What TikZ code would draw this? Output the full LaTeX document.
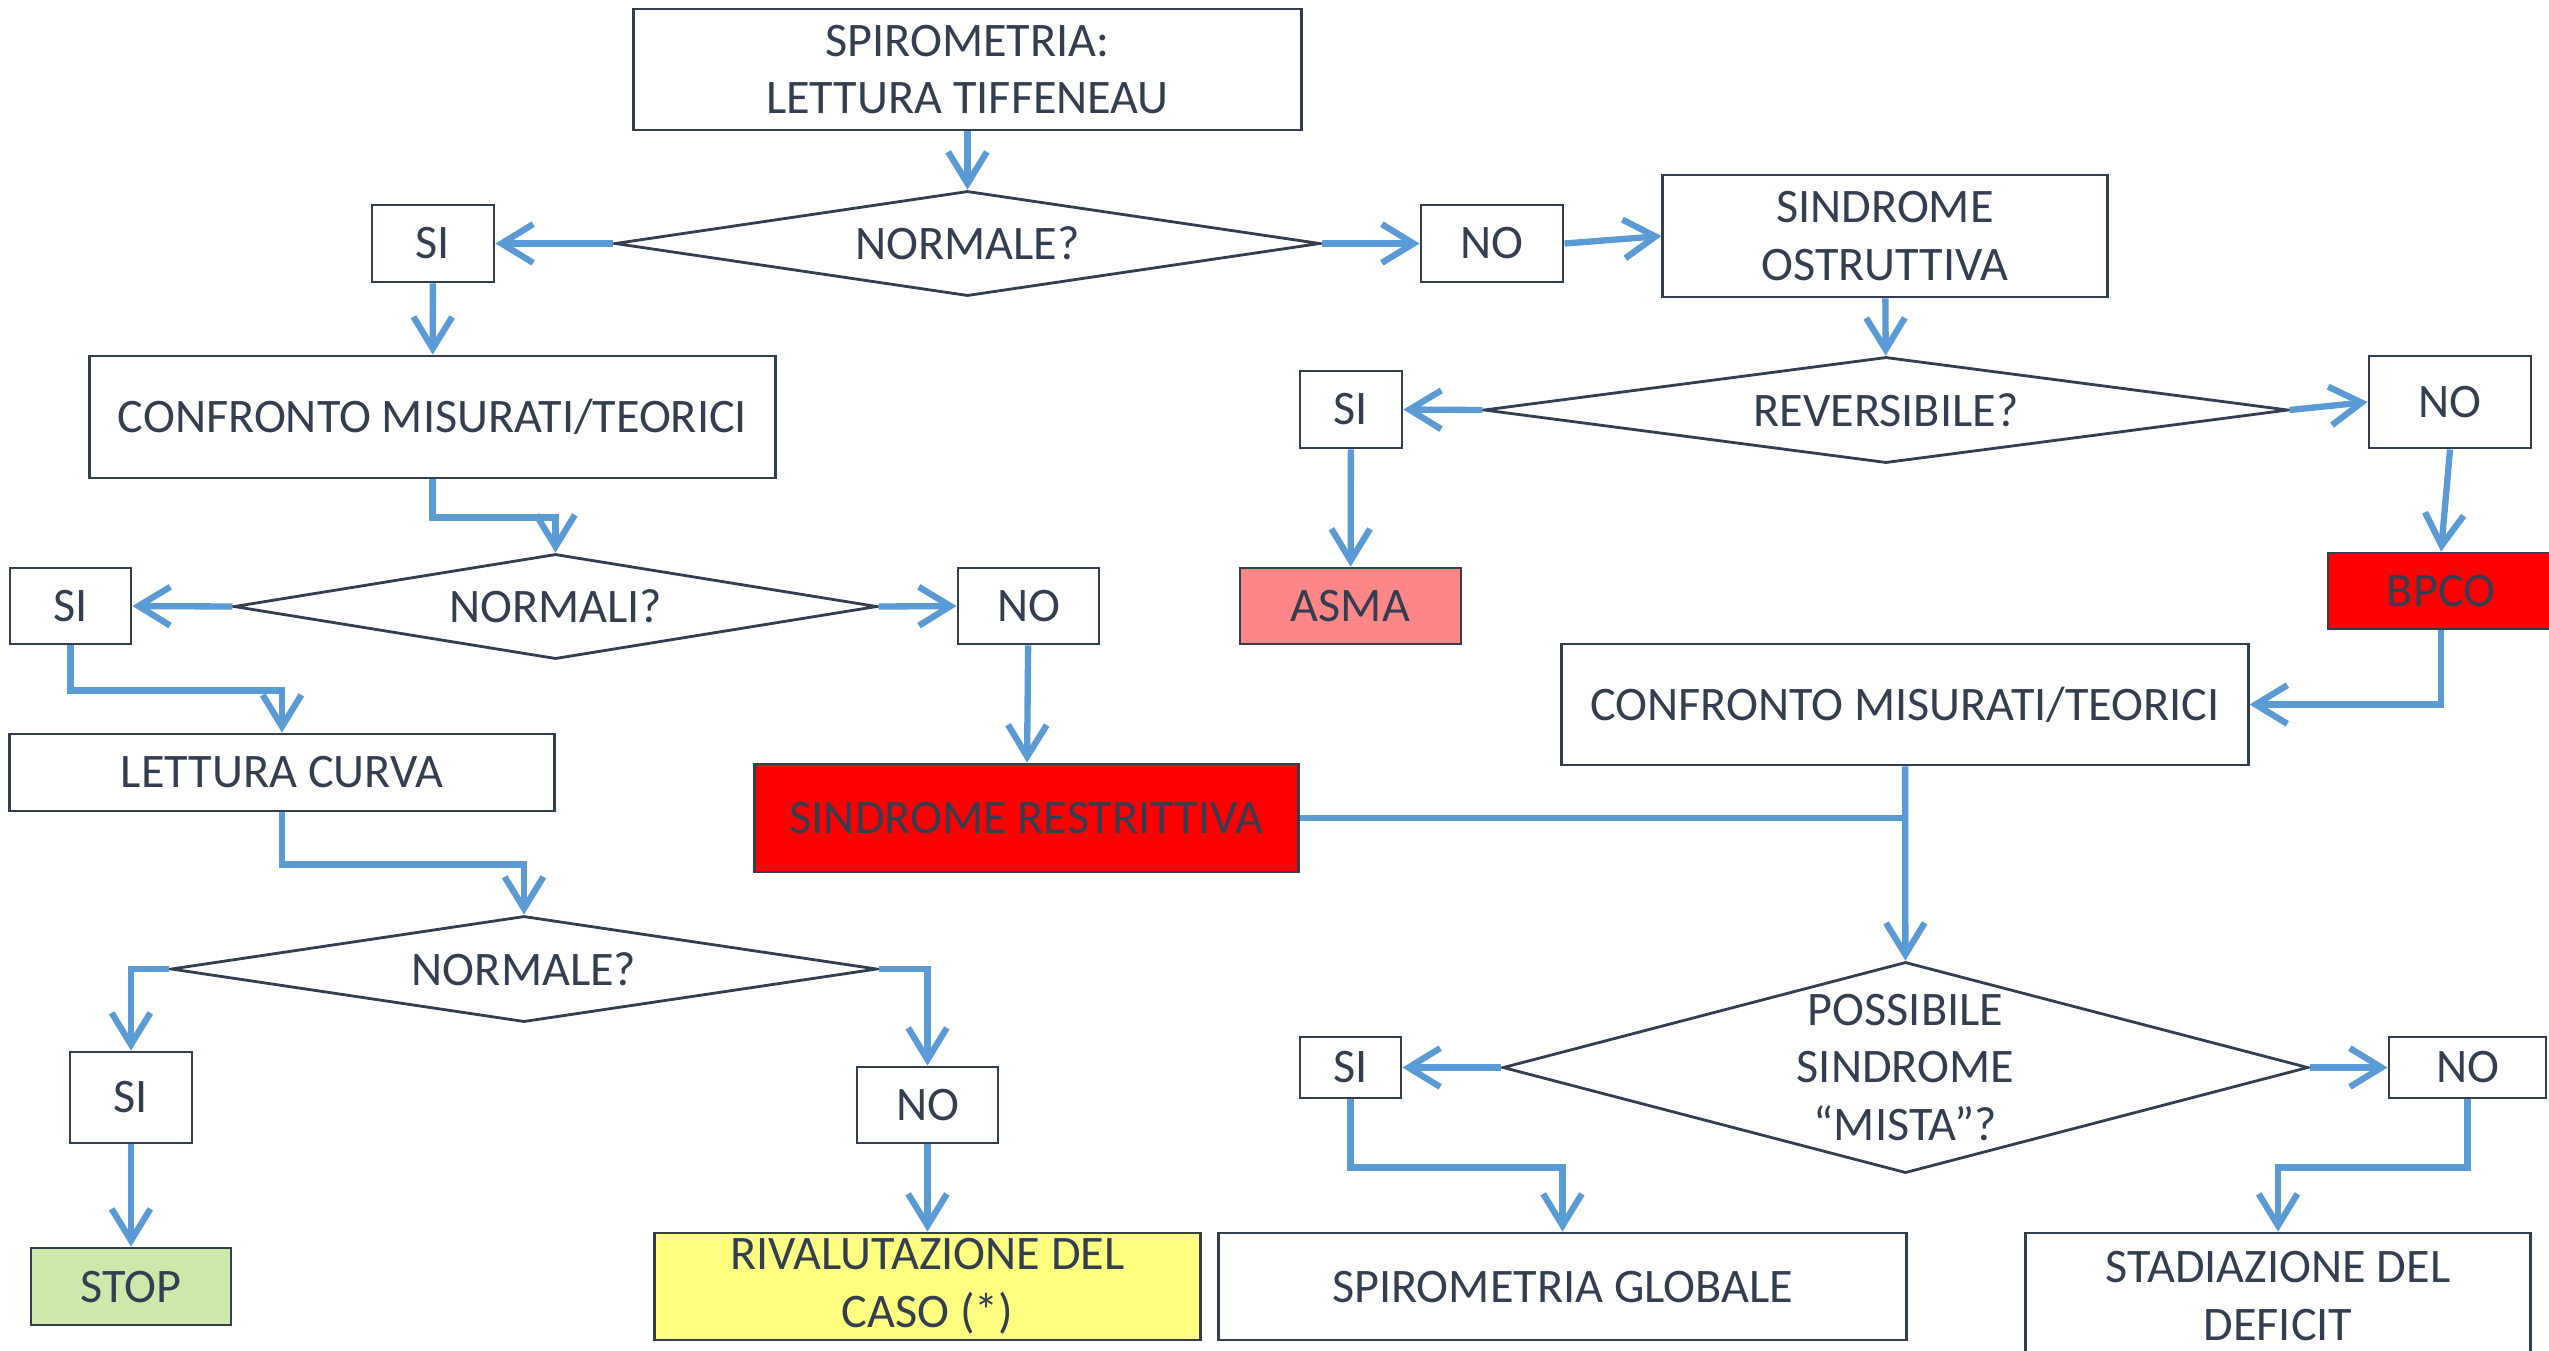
\documentclass[tikz,border=0pt]{standalone}
\usepackage{fontspec}
\setmainfont{Carlito}
\usetikzlibrary{shapes.geometric, arrows.meta}
\definecolor{ink}{RGB}{51,63,80}
\definecolor{flow}{RGB}{91,155,213}
\definecolor{asmared}{RGB}{255,134,134}
\definecolor{stopgreen}{RGB}{204,232,170}
\definecolor{casoyellow}{RGB}{255,255,128}

\begin{document}
\begin{tikzpicture}[
    x=0.01cm, y=-0.01cm,
    font=\fontsize{13.7pt}{16.4pt}\selectfont,
    box/.style={rectangle, draw=ink, line width=0.8pt, inner sep=0pt, align=center, text=ink, fill=white},
    choice/.style={diamond, draw=ink, line width=0.8pt, inner sep=0pt, align=center, text=ink},
    arrow/.style={-{Straight Barb[length=9pt,width=11pt]}, line width=1.8pt, flow},
    link/.style={line width=1.8pt, flow}
]
    \path[use as bounding box, clip] (0,0) rectangle (2549,1350);

    % Tiffeneau
    \node[box, minimum width=6.67cm, minimum height=1.21cm] (spiro) at (967.5,69.5) {SPIROMETRIA:\\LETTURA TIFFENEAU};
    \node[choice, minimum width=7.05cm, minimum height=1.05cm, shape aspect=6.7] (normale) at (967.5,243.5) {NORMALE?};
    \node[box, minimum width=1.22cm, minimum height=0.77cm] (si1) at (433,243.5) {SI};
    \node[box, minimum width=1.42cm, minimum height=0.77cm] (no1) at (1492,243.5) {NO};

    % Ostruttiva
    \node[box, minimum width=4.44cm, minimum height=1.22cm] (ostr) at (1885,236) {SINDROME\\OSTRUTTIVA};
    \node[choice, minimum width=8.04cm, minimum height=1.06cm, shape aspect=7.6] (revers) at (1886,410) {REVERSIBILE?};
    \node[box, minimum width=1.02cm, minimum height=0.77cm] (si2) at (1351,409.5) {SI};
    \node[box, minimum width=1.62cm, minimum height=0.92cm] (no2) at (2450,402) {NO};
    \node[box, fill=asmared, minimum width=2.21cm, minimum height=0.76cm] (asma) at (1350.5,606) {ASMA};
    \node[box, fill=red, minimum width=2.26cm, minimum height=0.76cm] (bpco) at (2441,591) {BPCO};

    % Misurati/teorici
    \node[box, minimum width=6.85cm, minimum height=1.22cm] (conf1) at (432.5,417) {CONFRONTO MISURATI/TEORICI};
    \node[choice, minimum width=6.43cm, minimum height=1.05cm, shape aspect=6.1] (normali) at (555.5,606.5) {NORMALI?};
    \node[box, minimum width=1.21cm, minimum height=0.76cm] (si3) at (70.5,606) {SI};
    \node[box, minimum width=1.41cm, minimum height=0.76cm] (no3) at (1028.5,606) {NO};
    \node[box, fill=red, minimum width=5.43cm, minimum height=1.08cm] (restr) at (1026.5,818) {SINDROME RESTRITTIVA};
    \node[box, minimum width=6.86cm, minimum height=1.21cm] (conf2) at (1905,704.5) {CONFRONTO MISURATI/TEORICI};

    % Curva
    \node[box, minimum width=5.44cm, minimum height=0.77cm] (curva) at (282,772.5) {LETTURA CURVA};
    \node[choice, minimum width=7.06cm, minimum height=1.06cm, shape aspect=6.7] (normcurva) at (524,969) {NORMALE?};
    \node[box, minimum width=1.22cm, minimum height=0.91cm] (si4) at (131,1097.5) {SI};
    \node[box, minimum width=1.41cm, minimum height=0.76cm] (no4) at (927.5,1105) {NO};
    \node[box, fill=stopgreen, minimum width=2.0cm, minimum height=0.77cm] (stop) at (131,1286.5) {STOP};
    \node[box, fill=casoyellow, minimum width=5.45cm, minimum height=1.07cm] (rival) at (927.5,1286.5) {RIVALUTAZIONE DEL\\CASO (*)};

    % Mista
    \node[choice, minimum width=8.05cm, minimum height=2.11cm, shape aspect=3.8] (mista) at (1905.5,1067.5) {POSSIBILE\\SINDROME\\“MISTA”?};
    \node[box, minimum width=1.01cm, minimum height=0.61cm] (si5) at (1350.5,1067.5) {SI};
    \node[box, minimum width=1.57cm, minimum height=0.61cm] (no5) at (2467.5,1067.5) {NO};
    \node[box, minimum width=6.87cm, minimum height=1.07cm] (glob) at (1562.5,1286.5) {SPIROMETRIA GLOBALE};
    \node[box, minimum width=5.04cm, minimum height=1.26cm] (stad) at (2278,1296) {STADIAZIONE DEL\\DEFICIT};

    % Arrows
    \draw[arrow] (spiro) -- (normale);
    \draw[arrow] (normale.west) -- (si1.east);
    \draw[arrow] (normale.east) -- (no1.west);
    \draw[arrow] (no1.east) -- (ostr.west);
    \draw[arrow] (si1) -- (conf1);
    \draw[arrow] (ostr) -- (revers);
    \draw[arrow] (revers.west) -- (si2.east);
    \draw[arrow] (revers.east) -- (no2.west);
    \draw[arrow] (si2) -- (asma);
    \draw[arrow] (no2.south) -- (bpco.north);
    \draw[arrow] (conf1.south) -- ++(0,38) -| (normali.north);
    \draw[arrow] (normali.west) -- (si3.east);
    \draw[arrow] (normali.east) -- (no3.west);
    \draw[arrow] (no3) -- (restr);
    \draw[arrow] (si3.south) -- ++(0,45) -| (curva.north);
    \draw[arrow] (curva.south) -- ++(0,52) -| (normcurva.north);
    \draw[arrow] (normcurva.west) -| (si4.north);
    \draw[arrow] (si4) -- (stop);
    \draw[arrow] (normcurva.east) -| (no4.north);
    \draw[arrow] (no4) -- (rival);
    \draw[arrow] (bpco.south) |- (conf2.east);
    \draw[arrow] (conf2) -- (mista);
    \draw[link] (restr.east) -- (restr.east -| conf2.south);
    \draw[arrow] (mista.west) -- (si5.east);
    \draw[arrow] (mista.east) -- (no5.west);
    \draw[arrow] (si5.south) -- ++(0,68) -| (glob.north);
    \draw[arrow] (no5.south) -- ++(0,68) -| (stad.north);
\end{tikzpicture}
\end{document}
